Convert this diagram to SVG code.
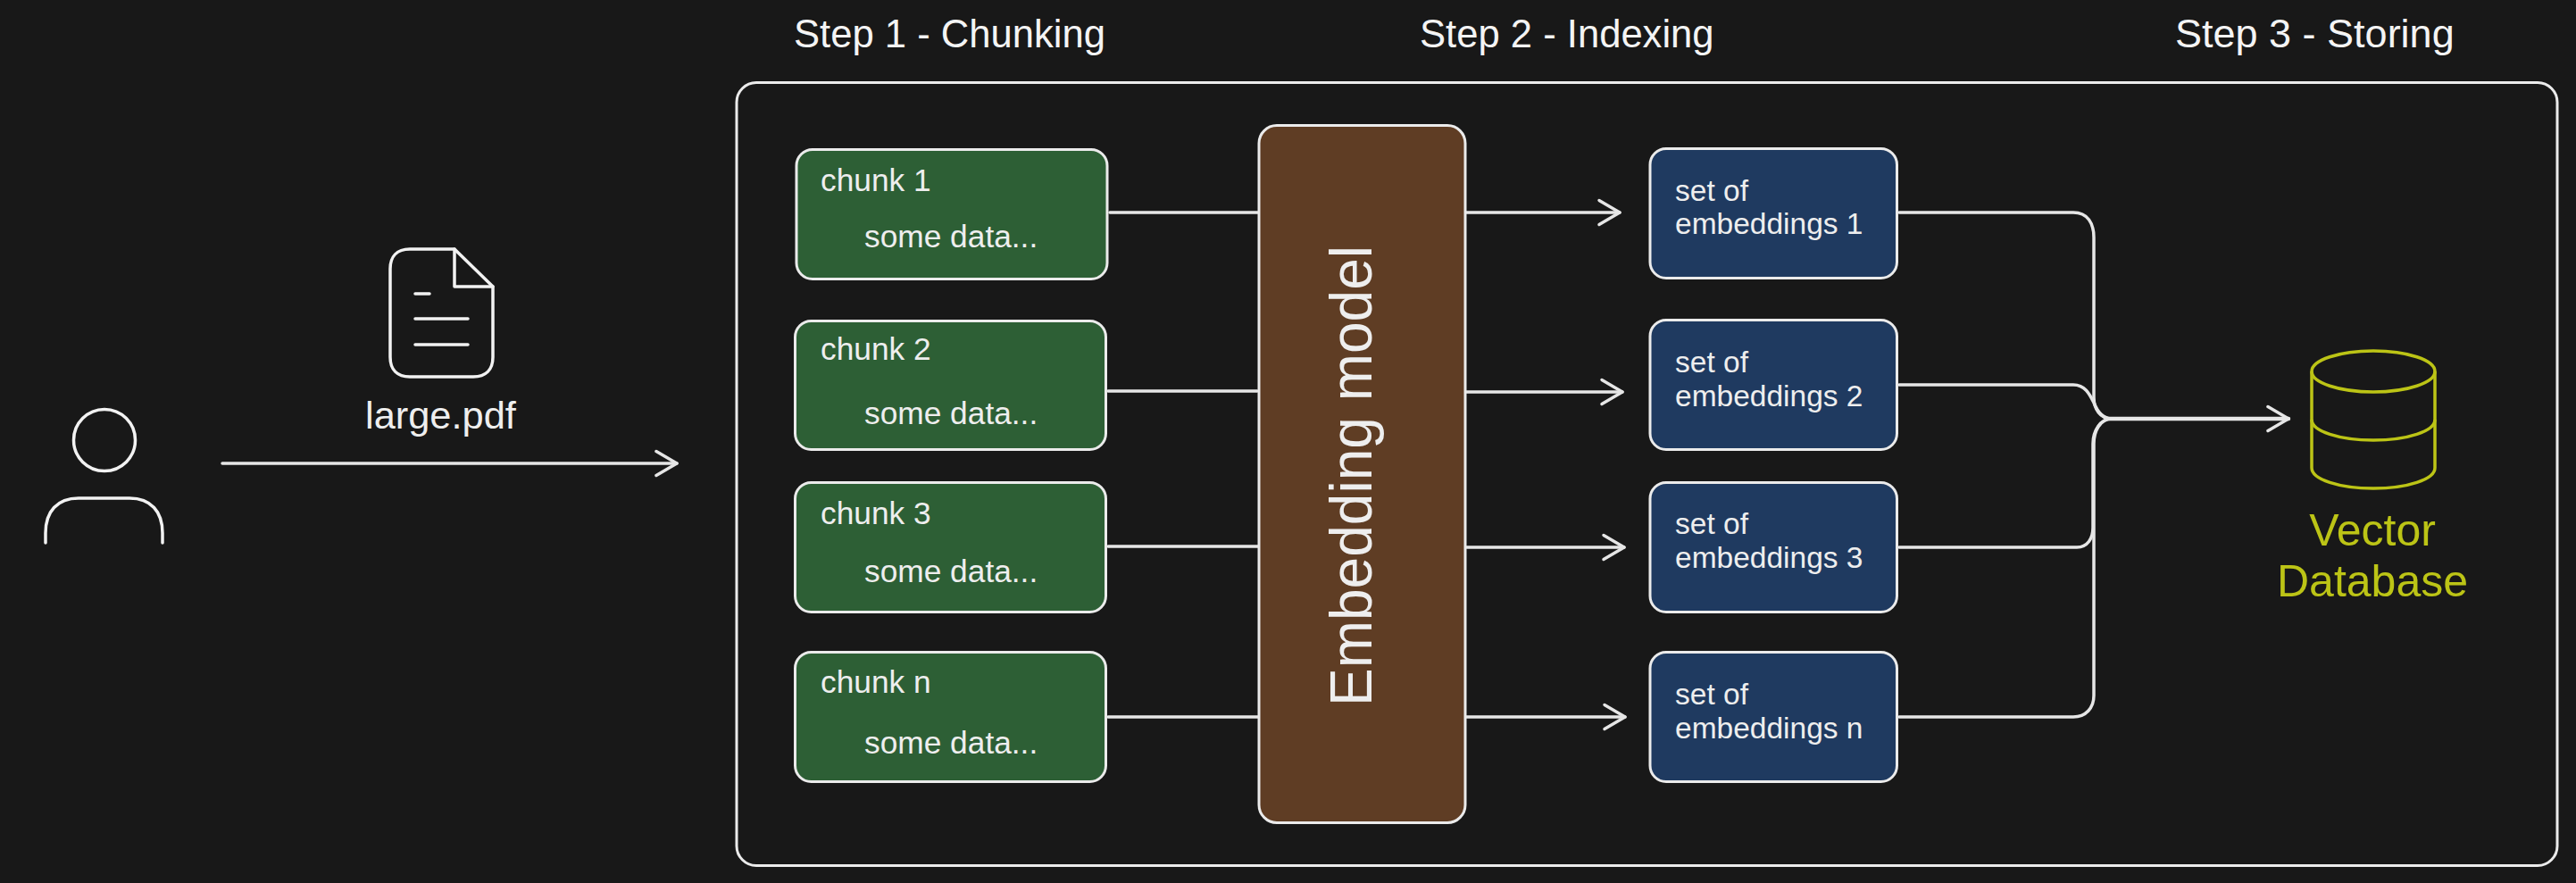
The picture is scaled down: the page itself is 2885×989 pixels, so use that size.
<svg xmlns="http://www.w3.org/2000/svg" width="2885" height="989" viewBox="0 0 2885 989">
<defs>
<style>
text{font-family:"Liberation Sans",Arial,sans-serif;fill:#eeeeee}
.step{font-size:43.6px;fill:#f4f4f4}
.lbl{font-size:35.3px}
.emb{font-size:33.5px}
.box{stroke:#ebebeb;stroke-width:3}
.chunk{fill:#2d5f35}
.set{fill:#1f3a60}
.ln{fill:none;stroke:#f2f2f2;stroke-width:3.5;stroke-linecap:round;stroke-linejoin:round}
.wire{fill:none;stroke:#e6e6e6;stroke-width:3.5;stroke-linecap:round;stroke-linejoin:round}
.db{fill:none;stroke:#bcc416;stroke-width:3.5}
</style>
<marker id="arrow" markerUnits="userSpaceOnUse" markerWidth="40" markerHeight="40" viewBox="-30 -20 36 40" refX="0" refY="0" orient="auto">
<path d="M-23,-13.5 L0,0 L-23,13.5" fill="none" stroke="#e6e6e6" stroke-width="3.5" stroke-linecap="round" stroke-linejoin="round"/>
</marker>
</defs>
<rect x="0" y="0" width="2885" height="989" fill="#181818"/>
<g id="person">
<ellipse class="ln" cx="117" cy="493" rx="34.5" ry="34.5"/>
<path class="ln" d="M51,608 V597 C51,573 64,558 88,558 H145 C169,558 182,573 182,597 V608"/>
</g>
<g id="file">
<path class="ln" d="M509,279 H459 C444,279 437,288 437,301 V400 C437,414 445,422 459,422 H530 C544,422 552,414 552,400 V321 Z"/>
<path class="ln" d="M509,279 V321 H552"/>
<path class="ln" d="M465,329 H481 M465,357 H524 M465,386 H524"/>
<text x="409" y="480" font-size="43.4">large.pdf</text>
</g>
<g id="steps">
<text class="step" x="889" y="53">Step 1 - Chunking</text>
<text class="step" x="1590" y="53">Step 2 - Indexing</text>
<text class="step" x="2436" y="53" style="font-size:45px">Step 3 - Storing</text>
</g>
<g id="frame"><rect x="825" y="92.500" width="2039" height="877" rx="22" fill="none" stroke="#ebebeb" stroke-width="3"/></g>
<g id="connectors">
<path class="wire" d="M249,519 H758" marker-end="url(#arrow)"/>
<path class="wire" d="M1243,238 H1410"/>
<path class="wire" d="M1241,438 H1408"/>
<path class="wire" d="M1241,612 H1410"/>
<path class="wire" d="M1241,803 H1410"/>
<path class="wire" d="M1641,238 H1814" marker-end="url(#arrow)"/>
<path class="wire" d="M1641,439 H1817" marker-end="url(#arrow)"/>
<path class="wire" d="M1641,613 H1819" marker-end="url(#arrow)"/>
<path class="wire" d="M1641,803 H1820" marker-end="url(#arrow)"/>
<path class="wire" d="M2127,238 H2322 C2338,238 2345,250 2345,266 V445 C2345,458 2352,469 2365,469"/>
<path class="wire" d="M2127,431 H2322 C2335,431 2340,441 2345,451 C2349,461 2355,469 2365,469"/>
<path class="wire" d="M2127,613 H2326 C2338,613 2344,603 2344,591 V497 C2344,483 2352,469 2365,469"/>
<path class="wire" d="M2127,803 H2322 C2336,803 2345,793 2345,779 V497 C2345,483 2352,469 2365,469"/>
<path class="wire" d="M2362,469 H2563" style="stroke-width:4.5" marker-end="url(#arrow)"/>
</g>
<g id="chunk1"><rect class="box chunk" x="892" y="167.500" width="348" height="145" rx="18"/><text class="lbl" x="919" y="214">chunk 1</text><text class="lbl" x="968" y="277">some data...</text></g>
<g id="chunk2"><rect class="box chunk" x="890.500" y="359.500" width="348" height="144" rx="18"/><text class="lbl" x="919" y="403">chunk 2</text><text class="lbl" x="968" y="475">some data...</text></g>
<g id="chunk3"><rect class="box chunk" x="890.500" y="540.500" width="348" height="145" rx="18"/><text class="lbl" x="919" y="587">chunk 3</text><text class="lbl" x="968" y="652">some data...</text></g>
<g id="chunkn"><rect class="box chunk" x="890.500" y="730.500" width="348" height="145" rx="18"/><text class="lbl" x="919" y="776">chunk n</text><text class="lbl" x="968" y="844">some data...</text></g>
<g id="embedding-model"><rect x="1410" y="140.500" width="231" height="781" rx="20" fill="#5f3d24" stroke="#ebebeb" stroke-width="3"/><text transform="translate(1536 791) rotate(-90)" font-size="66" textLength="516" lengthAdjust="spacingAndGlyphs">Embedding model</text></g>
<g id="set1"><rect class="box set" x="1848" y="166.500" width="276.500" height="145" rx="18"/><text class="emb" x="1876" y="225">set of</text><text class="emb" x="1876" y="262">embeddings 1</text></g>
<g id="set2"><rect class="box set" x="1848" y="358.500" width="276.500" height="145" rx="18"/><text class="emb" x="1876" y="417">set of</text><text class="emb" x="1876" y="455">embeddings 2</text></g>
<g id="set3"><rect class="box set" x="1848" y="540.500" width="276.500" height="145" rx="18"/><text class="emb" x="1876" y="598">set of</text><text class="emb" x="1876" y="636">embeddings 3</text></g>
<g id="setn"><rect class="box set" x="1848" y="730.500" width="276.500" height="145" rx="18"/><text class="emb" x="1876" y="789">set of</text><text class="emb" x="1876" y="827">embeddings n</text></g>
<g id="vector-db">
<ellipse class="db" cx="2658" cy="416" rx="69" ry="23"/>
<path class="db" d="M2589,416 V524 C2589,537 2620,547 2658,547 C2696,547 2727,537 2727,524 V416"/>
<path class="db" d="M2589,470 C2589,483 2620,493 2658,493 C2696,493 2727,483 2727,470"/>
<text x="2657" y="611" font-size="50" text-anchor="middle" style="fill:#bcc416">Vector</text>
<text x="2657" y="668" font-size="50" text-anchor="middle" style="fill:#bcc416">Database</text>
</g>
</svg>
